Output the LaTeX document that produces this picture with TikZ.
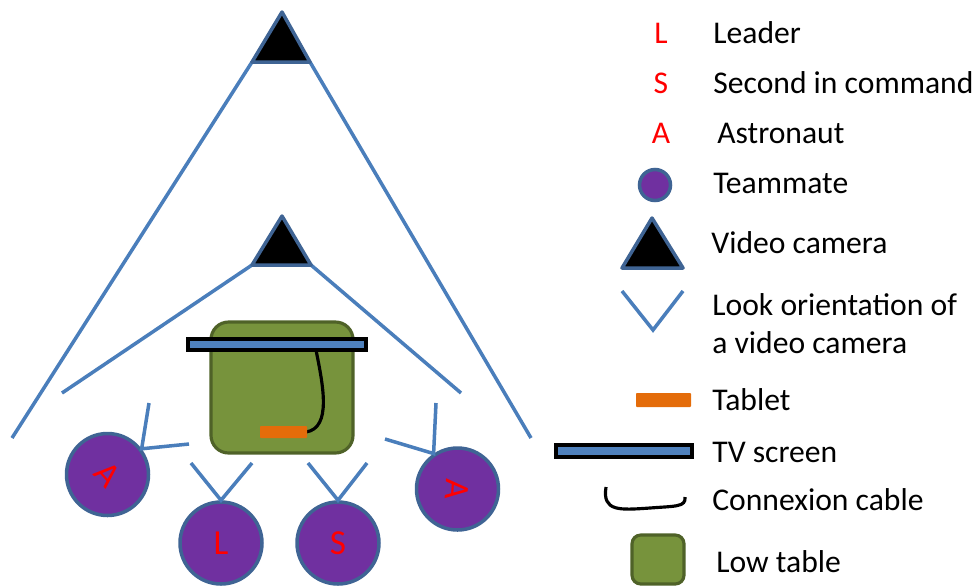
\documentclass[tikz,border=0pt]{standalone}
\usepackage{fontspec}
\setmainfont{Carlito}
\definecolor{lookblue}{HTML}{4A7EBB}
\definecolor{rimblue}{HTML}{3F6494}
\definecolor{matepurple}{HTML}{7030A0}
\definecolor{tablegreen}{HTML}{77933C}
\definecolor{tablerim}{HTML}{4F6228}
\definecolor{tabletorange}{HTML}{E46C0A}
\definecolor{tvblue}{HTML}{4F81BD}
\tikzset{
  look/.style={lookblue, line width=2pt},
  cam/.style={fill=black, draw=rimblue, line width=2pt, line join=round},
  mate/.style={circle, fill=matepurple, draw=rimblue, line width=2pt, minimum size=1.64cm, inner sep=0pt, text=red, font=\fontsize{20}{24}\selectfont},
  lowtable/.style={fill=tablegreen, draw=tablerim, line width=1.8pt},
  tv/.style={fill=tvblue, draw=black, line width=1.9pt},
  tablet/.style={fill=tabletorange, rounded corners=0.5pt},
  cable/.style={black, line width=1.8pt},
  key/.style={anchor=base west, font=\fontsize{18}{21.5}\selectfont, inner sep=0pt},
  keyletter/.style={anchor=base, text=red, font=\fontsize{18}{21.5}\selectfont, inner sep=0pt}
}
\begin{document}
\begin{tikzpicture}[x=0.02cm, y=-0.02cm]
	\useasboundingbox (0,0) rectangle (976,586);
	% cameras and their look lines
	\draw[look] (252,62)--(12,438);
	\draw[look] (310,62)--(531,438);
	\draw[look] (252,265)--(62,393);
	\draw[look] (311,265)--(461,393);
	\filldraw[cam] (282,12)--(310,62)--(252,62)--cycle;
	\filldraw[cam] (282,216)--(311,265)--(252,265)--cycle;
	% low table, screen, tablet
	\filldraw[lowtable, rounded corners=10pt] (211,322) rectangle (353,453);
	\draw[cable] (316,350) .. controls (323,385) and (332,428) .. (306,432);
	\filldraw[tv] (188,339) rectangle (366,350);
	\fill[tablet] (260,426) rectangle (307,438);
	% teammates
	\node[mate] (astroleft) at (107.5,474.5) {\rotatebox{-48}{A}};
	\node[mate] (leader) at (221,543) {L};
	\node[mate] (second) at (338,543) {S};
	\node[mate] (astroright) at (457.5,489) {\rotatebox{-94}{A}};
	\draw[look] (149,403)--(astroleft.37)--(189,444);
	\draw[look] (191,463)--(leader.north)--(252,463);
	\draw[look] (308,463)--(second.north)--(367,463);
	\draw[look] (436,403)--(astroright.124)--(385,439);
	% legend
	\node[keyletter] (kL) at (661,43) {L};
	\node[key] (kLeader) at (713,43) {Leader};
	\node[keyletter] (kS) at (661,93) {S};
	\node[key] (kSecond) at (713,93) {Second in command};
	\node[keyletter] (kA) at (661,143) {A};
	\node[key] (kAstro) at (717,143) {Astronaut};
	\node[circle, fill=matepurple, draw=rimblue, line width=2pt, minimum size=0.62cm, inner sep=0pt] (kMate) at (655,185) {};
	\node[key] (kTeam) at (713,193) {Teammate};
	\filldraw[cam] (652,218)--(683,268)--(622,268)--cycle;
	\node[key] (kCam) at (711,253) {Video camera};
	\draw[look] (622,291)--(653,330)--(683,291);
	\node[key, align=left] (kLook) at (712,353) {Look orientation of\\a video camera};
	\fill[tablet] (636,393) rectangle (691,407);
	\node[key] (kTablet) at (712,410) {Tablet};
	\filldraw[tv] (556,445) rectangle (692,457);
	\node[key] (kTV) at (712,462) {TV screen};
	\draw[cable] (606,487) .. controls (602,512) and (620,510) .. (650,508) .. controls (676,506) and (686,507) .. (685,497);
	\node[key] (kCable) at (712,510) {Connexion cable};
	\filldraw[lowtable, rounded corners=5pt] (632,535) rectangle (684,584);
	\node[key] (kTable) at (716,572) {Low table};
\end{tikzpicture}
\end{document}
